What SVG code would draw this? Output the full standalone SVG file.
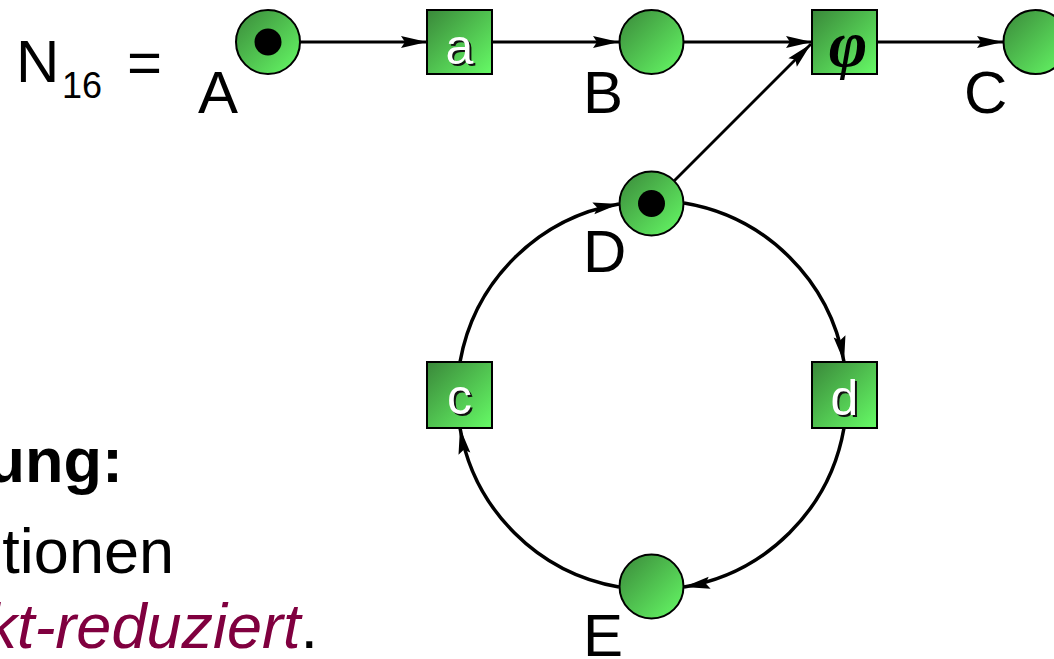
<svg xmlns="http://www.w3.org/2000/svg" width="1054" height="659" viewBox="0 0 1054 659">
  <defs>
    <linearGradient id="green" x1="0" y1="0" x2="1" y2="1">
      <stop offset="0" stop-color="#3a883a"/>
      <stop offset="1" stop-color="#66fb66"/>
    </linearGradient>
    <marker id="arrow" markerUnits="userSpaceOnUse" markerWidth="30" markerHeight="16" viewBox="-28 -8 30 16" refX="0" refY="0" orient="auto">
      <path d="M0,0 L-26,-6 L-22,0 L-26,6 Z" fill="#000"/>
    </marker>
    <style>
      .place { fill: url(#green); stroke: #000; stroke-width: 2; }
      .trans { fill: url(#green); stroke: #000; stroke-width: 2; }
      .token { fill: #000; }
      .edge { fill: none; stroke: #000; stroke-width: 2.8; marker-end: url(#arrow); }
      .loop { fill: none; stroke: #000; stroke-width: 3.5; marker-end: url(#arrow); }
      .name { font-family: "Liberation Sans", Arial, sans-serif; font-size: 60px; fill: #000; }
      .tl { font-family: "Liberation Sans", Arial, sans-serif; font-size: 50px; text-anchor: middle; }
      .tl-shadow { fill: #111; }
      .tl-face { fill: #fff; }
      .body { font-family: "Liberation Sans", Arial, sans-serif; font-size: 63px; fill: #000; text-anchor: end; }
    </style>
  </defs>

  <!-- net name -->
  <g id="title">
    <text class="name" x="16" y="82">N</text>
    <text class="name" x="62" y="98" style="font-size:36px">16</text>
    <text class="name" x="127" y="83">=</text>
  </g>

  <!-- arcs of the net -->
  <g id="connectors">
    <line class="edge" x1="300" y1="42" x2="427" y2="42"/>
    <line class="edge" x1="492" y1="42" x2="619" y2="42"/>
    <line class="edge" x1="684" y1="42" x2="812" y2="42"/>
    <line class="edge" x1="877" y1="42" x2="1003" y2="42"/>
    <line class="edge" x1="674.5" y1="180.5" x2="811" y2="44"/>
    <path class="loop" d="M684,203 A195,195 0 0 1 844,362"/>
    <path class="loop" d="M844,428 A195,195 0 0 1 684,587"/>
    <path class="loop" d="M619,587 A195,195 0 0 1 460,428"/>
    <path class="loop" d="M460,362 A195,195 0 0 1 619,204"/>
  </g>

  <!-- places -->
  <g id="place-A">
    <circle class="place" cx="268" cy="42" r="32"/>
    <circle class="token" cx="268" cy="42" r="13.5"/>
    <text class="name" x="198" y="113">A</text>
  </g>
  <g id="place-B">
    <circle class="place" cx="651.5" cy="42" r="32"/>
    <text class="name" x="583" y="113">B</text>
  </g>
  <g id="place-C">
    <circle class="place" cx="1035.5" cy="42" r="32"/>
    <text class="name" x="964" y="113">C</text>
  </g>
  <g id="place-D">
    <circle class="place" cx="651.5" cy="203.5" r="32"/>
    <circle class="token" cx="651.5" cy="203.5" r="13.5"/>
    <text class="name" x="583" y="272">D</text>
  </g>
  <g id="place-E">
    <circle class="place" cx="651.5" cy="586.5" r="32"/>
    <text class="name" x="583" y="656">E</text>
  </g>

  <!-- transitions -->
  <g id="trans-a">
    <rect class="trans" x="427" y="10" width="65" height="64"/>
    <text class="tl tl-shadow" x="461.5" y="65.5">a</text>
    <text class="tl tl-face" x="459.5" y="63.5">a</text>
  </g>
  <g id="trans-phi">
    <rect class="trans" x="812" y="10" width="65" height="64"/>
    <text x="848" y="66" text-anchor="middle" font-family="Liberation Serif, 'Times New Roman', serif" font-style="italic" font-weight="bold" font-size="66" fill="#000">φ</text>
  </g>
  <g id="trans-c">
    <rect class="trans" x="427" y="362" width="65" height="66"/>
    <text class="tl tl-shadow" x="461.5" y="416">c</text>
    <text class="tl tl-face" x="459.5" y="414">c</text>
  </g>
  <g id="trans-d">
    <rect class="trans" x="812" y="362" width="65" height="66"/>
    <text class="tl tl-shadow" x="846.5" y="417">d</text>
    <text class="tl tl-face" x="844.5" y="415">d</text>
  </g>

  <!-- explanatory text -->
  <g id="notes">
    <text class="body" x="123" y="482" font-weight="bold">ung:</text>
    <text class="body" x="174" y="573">tionen</text>
    <text class="body" x="318" y="648"><tspan fill="#80003f" font-style="italic">kt-reduziert</tspan>.</text>
  </g>
</svg>
